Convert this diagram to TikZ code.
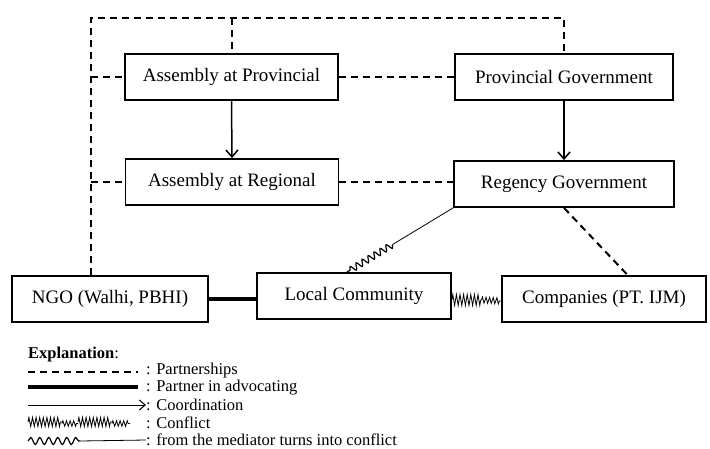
\documentclass[tikz,border=0pt]{standalone}
\usepackage{fontspec}
\setmainfont{Liberation Serif}
\usetikzlibrary{arrows.meta,calc,decorations.pathmorphing}
\tikzset{
  actor/.style={draw,line width=1.8pt,minimum height=46pt,inner sep=0pt,font=\fontsize{19}{22}\selectfont},
  partner/.style={line width=2pt,dash pattern=on 7pt off 5pt},
  advocate/.style={line width=4pt},
  coordin/.style={line width=1.5pt,-{Straight Barb[length=7pt,width=12pt,line width=1.5pt]}},
  conflict/.style={line width=0.8pt,decorate,decoration={zigzag,segment length=3.6pt,amplitude=#1}},
  conflict/.default=5.5pt,
  mediate/.style={line width=1.2pt,decorate,decoration={snake,segment length=7pt,amplitude=3.2pt}},
  legtext/.style={anchor=west,inner sep=0pt,font=\fontsize{16.5}{18}\selectfont}
}
\begin{document}
\begin{tikzpicture}[x=1pt,y=-1pt,line join=miter]
\useasboundingbox (0,0) rectangle (710,448);
% actors
\node[actor,minimum width=213pt] (AP) at (231.5,77) {Assembly at Provincial};
\node[actor,minimum width=218pt] (PG) at (564,77) {Provincial Government};
\node[actor,minimum width=213pt] (AR) at (232,182) {Assembly at Regional};
\node[actor,minimum width=220pt] (RG) at (564,184) {Regency Government};
\node[actor,minimum width=196pt] (NGO) at (110,299) {NGO (Walhi, PBHI)};
\node[actor,minimum width=194pt] (LC) at (354,296) {Local Community};
\node[actor,minimum width=204pt] (CO) at (604,299) {Companies (PT. IJM)};

% partnerships
\coordinate (tl) at (91,18);
\coordinate (ngotop) at (NGO.north -| tl);
\draw[partner] (ngotop) -- (tl) -- (tl -| PG.north) -- (PG.north);
\draw[partner] (tl -| AP.north) -- (AP.north);
\draw[partner] (AP.west -| tl) -- (AP.west);
\draw[partner] (AR.west -| tl) -- (AR.west);
\draw[partner] (AP.east) -- (AP.east -| PG.west);
\draw[partner] (AR.east) -- (AR.east -| RG.west);
\coordinate (cotop) at ($(CO.north west)!0.615!(CO.north east)$);
\draw[partner] (RG.south) -- (cotop);

% coordination
\draw[coordin] (AP.south) -- (AR.north);
\draw[coordin] (PG.south) -- (RG.north);

% advocating and conflict
\draw[advocate] (NGO.east) -- (NGO.east -| LC.west);
\coordinate (k1) at (LC.east |- 0,300);
\coordinate (k2) at ($(k1)!0.6!(CO.west |- 0,300)$);
\draw[conflict] (k1) -- (k2);
\draw[conflict=3pt] (k2) -- (CO.west |- 0,301);

% mediator turns into conflict
\coordinate (lctop) at ($(LC.north west)!0.464!(LC.north east)$);
\coordinate (turn) at ($(RG.south west)!0.57!(lctop)$);
\draw[line width=0.8pt] (RG.south west) -- (turn);
\draw[mediate] (turn) -- (lctop);

% explanation
\node[legtext] (expl) at (28,355) {\textbf{Explanation}:};
\node[legtext] (lp) at (146,371) {: Partnerships};
\node[legtext] (la) at (146,388) {: Partner in advocating};
\node[legtext] (lc) at (146,405) {: Coordination};
\node[legtext] (lk) at (146,423) {: Conflict};
\node[legtext] (lm) at (146,440) {: from the mediator turns into conflict};
\draw[partner] (28,372) -- (138,372);
\draw[advocate] (28,387) -- (138,387);
\draw[line width=1pt,-{Straight Barb[length=6pt,width=10pt,line width=1pt]}] (28,405) -- (lc.west);
\foreach \a/\b/\amp/\dy in {28/62/4.5/0,62/78/2.8/1.5,78/112/4.5/0,112/130/2.8/1.5}
  \draw[conflict=\amp pt] (\a,422+\dy) -- (\b,422+\dy);
\draw[line width=1.2pt,decorate,decoration={snake,segment length=9pt,amplitude=3.5pt}] (28,441) -- (80,441);
\draw[line width=0.8pt] (80,441) -- (lm.west);
\end{tikzpicture}
\end{document}
